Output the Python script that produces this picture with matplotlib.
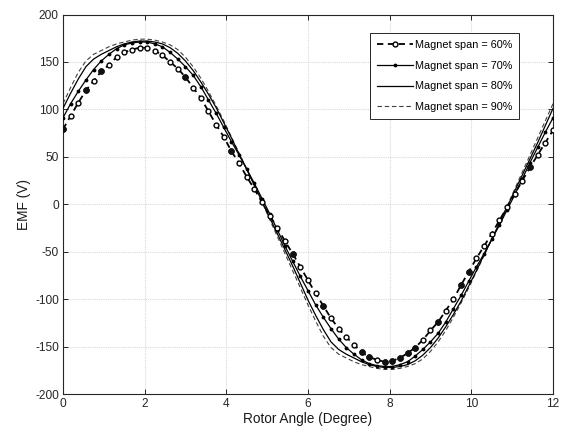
import numpy as np
import matplotlib
matplotlib.use("Agg")
import matplotlib.pyplot as plt

plt.rcParams['font.family'] = ['Liberation Sans', 'DejaVu Sans']
plt.rcParams['axes.unicode_minus'] = False

# Rotor angle grid (65 samples over 0..12 deg)
angle = np.linspace(0, 12, 65)

emf_60 = [79, 93, 107, 120, 130, 140, 147, 155, 160, 163, 165, 165, 162, 157, 150, 143,
          134, 123, 112, 98, 84, 71, 56, 43, 29, 16, 2, -12, -25, -39, -52, -66,
          -80, -94, -107, -120, -131, -140, -148, -156, -161, -164, -166, -165, -162, -157, -151, -143,
          -133, -124, -112, -100, -85, -71, -57, -44, -31, -17, -3, 11, 25, 39, 52, 65, 78]

emf_70 = [91, 106, 119, 131, 142, 151, 158, 164, 168, 170, 171, 171, 169, 166, 160, 153,
          145, 136, 124, 110, 96, 81, 66, 52, 37, 22, 6, -10, -27, -44, -60, -76,
          -91, -106, -119, -131, -142, -151, -158, -164, -168, -170, -171, -171, -169, -166, -160, -153,
          -145, -136, -124, -110, -96, -81, -66, -52, -37, -22, -6, 10, 27, 44, 60, 76, 91]

emf_80 = [101, 117, 132, 145, 153, 158, 162, 166, 169, 171, 172, 172, 171, 169, 165, 159,
          151, 141, 129, 116, 102, 86, 70, 53, 37, 20, 3, -14, -31, -48, -65, -83,
          -101, -117, -132, -145, -153, -158, -162, -166, -169, -171, -172, -172, -171, -169, -165, -159,
          -151, -141, -129, -116, -102, -86, -70, -53, -37, -20, -3, 14, 31, 48, 65, 83, 101]

emf_90 = [106, 123, 139, 151, 158, 162, 166, 169, 171, 173, 174, 174, 173, 171, 168, 163,
          155, 145, 133, 119, 104, 88, 71, 54, 37, 20, 2, -16, -34, -52, -70, -88,
          -106, -123, -139, -151, -158, -162, -166, -169, -171, -173, -174, -174, -173, -171, -168, -163,
          -155, -145, -133, -119, -104, -88, -71, -54, -37, -20, -2, 16, 34, 52, 70, 88, 106]

labels = ['Magnet span = 60%', 'Magnet span = 70%', 'Magnet span = 80%', 'Magnet span = 90%']
x_ticks = [0, 2, 4, 6, 8, 10, 12]
y_ticks = [-200, -150, -100, -50, 0, 50, 100, 150, 200]

# markers of the 60% curve that render as filled dots
filled_idx = [0, 3, 5, 16, 22, 30, 34, 39, 40, 42, 43, 44, 45, 46, 49, 52, 53, 61]

fig = plt.figure(figsize=(5.62, 4.33), dpi=100)
ax = fig.add_axes([0.112, 0.090, 0.872, 0.8765])

ax.plot(angle, emf_60, color='black', linestyle=(0, (3.5, 2.5)), linewidth=1.3,
        marker='o', markersize=3.5, markerfacecolor='white', markeredgecolor='black',
        markeredgewidth=1.0, label=labels[0], zorder=5)
ax.plot(angle[filled_idx], np.array(emf_60)[filled_idx], linestyle='none', marker='o',
        markersize=3.7, color='#111111', zorder=6)
ax.plot(angle, emf_70, color='black', linestyle='-', linewidth=0.9, marker='.',
        markersize=3.5, label=labels[1], zorder=4)
ax.plot(angle, emf_80, color='black', linestyle='-', linewidth=0.9, label=labels[2], zorder=3)
ax.plot(angle, emf_90, color='0.25', linestyle=(0, (4, 2.5)), linewidth=0.8, label=labels[3], zorder=2)

ax.set_xlim(0, 12)
ax.set_ylim(-200, 200)
ax.set_xticks(x_ticks)
ax.set_yticks(y_ticks)
ax.grid(True, color='0.85', linestyle=(0, (1, 1)), linewidth=0.8)
ax.set_axisbelow(True)
ax.tick_params(direction='in', length=3.5, width=0.7, top=True, right=True,
               labelsize=8.6, colors='0.15', pad=3)
for s in ax.spines.values():
    s.set_color('0.15')
    s.set_linewidth(0.8)

ax.set_xlabel('Rotor Angle (Degree)', fontsize=9.8, color='0.1', labelpad=1)
ax.set_ylabel('EMF (V)', fontsize=9.8, color='0.1', labelpad=3)

leg = ax.legend(loc='upper left', bbox_to_anchor=(0.626, 0.952), fontsize=7.8,
                handlelength=3.3, handletextpad=0.2, labelspacing=1.0,
                borderpad=0.65, frameon=True, fancybox=False, framealpha=1,
                edgecolor='0.15', borderaxespad=0)
leg.get_frame().set_linewidth(0.7)

fig.savefig('out.png', dpi=100)
